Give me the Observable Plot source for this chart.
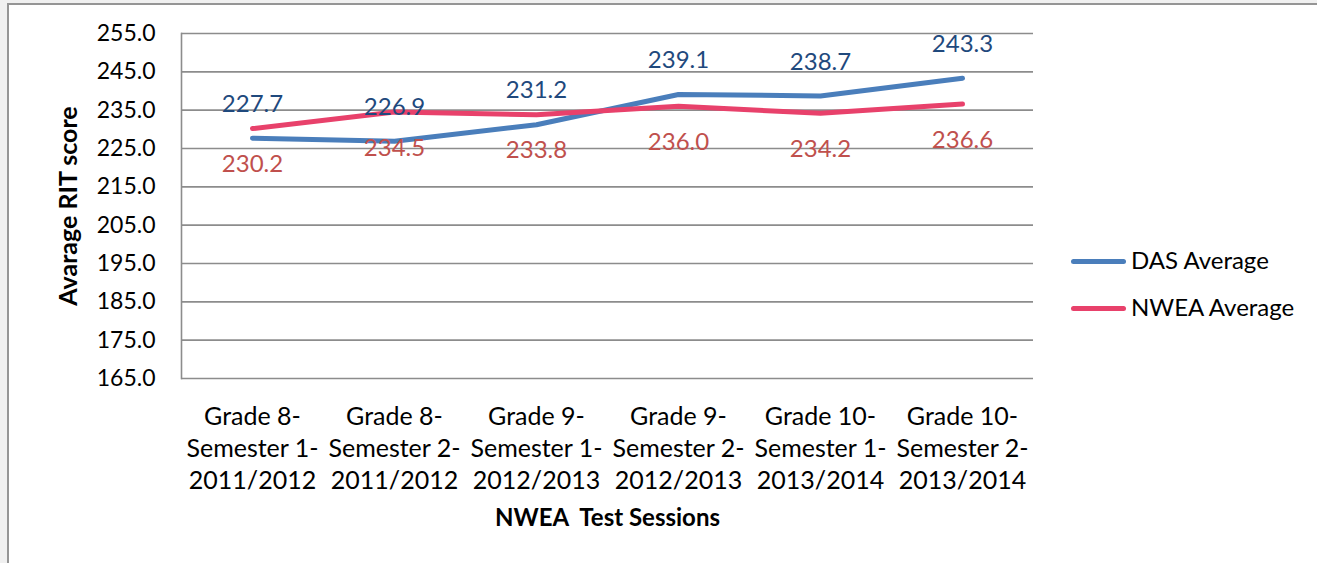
<!DOCTYPE html>
<html>
<head>
<meta charset="utf-8">
<script src="https://cdn.jsdelivr.net/npm/d3@7"></script>
<script src="https://cdn.jsdelivr.net/npm/@observablehq/plot@0.6"></script>
<style>
  html, body { margin: 0; padding: 0; background: #fff; overflow: hidden; width: 1317px; height: 563px; }
  #wrap { position: absolute; left: 0; top: 0; width: 1317px; height: 563px; overflow: hidden; background: #f0f0f0; }
  #frame { position: absolute; left: 7px; top: 3px; width: 1330px; height: 580px; background: #fff; border-left: 2px solid #959595; border-top: 2px solid #959595; box-sizing: border-box; }
  #chart { position: absolute; left: 0; top: 0; width: 1317px; height: 563px; overflow: hidden; }
  .leg { position: absolute; left: 1071px; font-family: Lato, sans-serif; font-size: 24px; color: #000; }
  .leg .sw { position: absolute; left: 0; width: 55px; height: 5px; border-radius: 3px; }
  .leg .lb { position: absolute; left: 60px; white-space: nowrap; line-height: 1; }
</style>
</head>
<body>
<div id="wrap">
  <div id="frame"></div>
  <div id="chart"></div>
  <div id="legend"></div>
</div>
<script>
const categories = [
  "Grade 8-\nSemester 1-\n2011/2012",
  "Grade 8-\nSemester 2-\n2011/2012",
  "Grade 9-\nSemester 1-\n2012/2013",
  "Grade 9-\nSemester 2-\n2012/2013",
  "Grade 10-\nSemester 1-\n2013/2014",
  "Grade 10-\nSemester 2-\n2013/2014"
];
const dasValues = [227.7, 226.9, 231.2, 239.1, 238.7, 243.3];
const nweaValues = [230.2, 234.5, 233.8, 236.0, 234.2, 236.6];
const seriesNames = ["DAS Average", "NWEA Average"];
const seriesColors = ["#4a7ebb", "#e8416b"];
const labelColors = ["#1f497d", "#c0504d"];
const yTicks = [165, 175, 185, 195, 205, 215, 225, 235, 245, 255];
const yTitle = "Avarage RIT score";
const xTitle = "NWEA  Test Sessions";

const das = categories.map((c, i) => ({cat: c, value: dasValues[i]}));
const nwea = categories.map((c, i) => ({cat: c, value: nweaValues[i]}));

const font = "Lato, 'Open Sans', sans-serif";

const plot = Plot.plot({
  width: 1317,
  height: 563,
  marginLeft: 181,
  marginRight: 284,
  marginTop: 33,
  marginBottom: 185,
  style: {fontFamily: font, fontSize: "23px", color: "#000", background: "transparent"},
  x: {type: "point", domain: categories, padding: 0.5},
  y: {domain: [165, 255]},
  marks: [
    Plot.ruleY(yTicks, {stroke: "#8c8c8c", strokeWidth: 1.6}),
    Plot.frame({anchor: "left", stroke: "#8c8c8c", strokeWidth: 1.6}),
    Plot.axisY({ticks: yTicks, tickFormat: d => d.toFixed(1), tickSize: 0, tickPadding: 26, label: null, fontSize: 23}),
    Plot.axisX({tickSize: 0, tickPadding: 24, label: null, fontSize: 25, lineHeight: 1.28, lineAnchor: "top"}),
    Plot.line(das, {x: "cat", y: "value", stroke: seriesColors[0], strokeWidth: 5, strokeLinecap: "round", strokeLinejoin: "round"}),
    Plot.line(nwea, {x: "cat", y: "value", stroke: seriesColors[1], strokeWidth: 5, strokeLinecap: "round", strokeLinejoin: "round"}),
    Plot.text(das, {x: "cat", y: "value", text: d => d.value.toFixed(1), dy: -34, fill: labelColors[0], fontSize: 24, lineAnchor: "middle"}),
    Plot.text(nwea, {x: "cat", y: "value", text: d => d.value.toFixed(1), dy: 36, fill: labelColors[1], fontSize: 24, lineAnchor: "middle"}),
    Plot.text([yTitle], {frameAnchor: "left", dx: -113, rotate: -90, fontWeight: "bold", fontSize: 25, textAnchor: "middle", lineAnchor: "middle", fill: "#000"}),
    Plot.text([xTitle], {frameAnchor: "bottom", dy: 147, fontWeight: "bold", fontSize: 24, textAnchor: "middle", lineAnchor: "bottom", fill: "#000"})
  ]
});
plot.style.whiteSpace = "pre";
plot.style.display = "block";
document.getElementById("chart").appendChild(plot);

const legend = document.getElementById("legend");
const legendY = [261, 308];
seriesNames.forEach((name, i) => {
  const row = document.createElement("div");
  row.className = "leg";
  row.style.top = legendY[i] + "px";
  const sw = document.createElement("div");
  sw.className = "sw";
  sw.style.background = seriesColors[i];
  sw.style.top = "-2.5px";
  const lb = document.createElement("div");
  lb.className = "lb";
  lb.style.top = "-13px";
  lb.textContent = name;
  row.appendChild(sw);
  row.appendChild(lb);
  legend.appendChild(row);
});
</script>
</body>
</html>
